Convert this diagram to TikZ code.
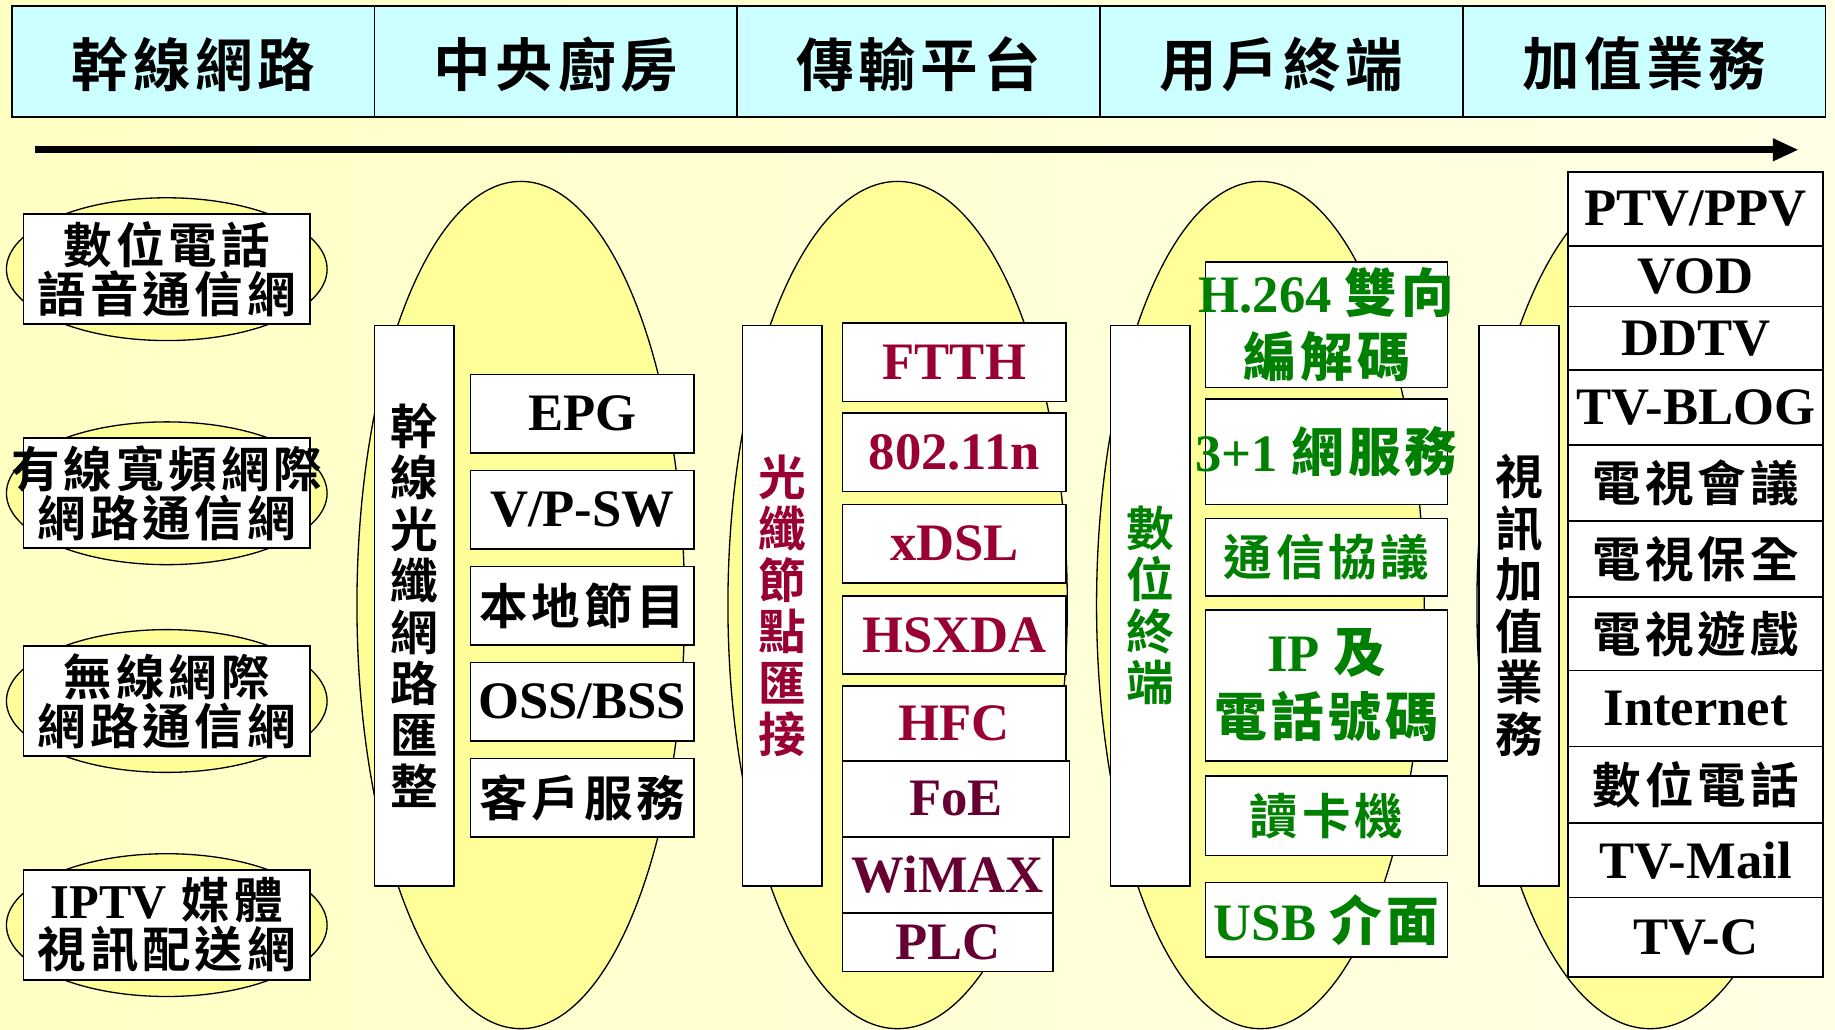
\documentclass[tikz,border=0pt]{standalone}
\usepackage{fontspec}
\setmainfont{Liberation Serif}
\newfontfamily\cjk{Noto Sans CJK TC}[UprightFont=* Bold, LetterSpace=8]
\usetikzlibrary{arrows.meta,
                positioning,
                shapes.geometric
            }
\definecolor{bgA}{HTML}{FFFFC4}
\definecolor{bgB}{HTML}{FFFFE6}
\definecolor{ovalyel}{HTML}{FFFF99}
\definecolor{hdrcyan}{HTML}{CCFFFF}
\definecolor{txtred}{HTML}{990033}
\definecolor{txtdark}{HTML}{660033}
\definecolor{txtgreen}{HTML}{008000}
\newcommand\overhang[1]{\makebox[0pt]{#1}}

\begin{document}
\begin{tikzpicture}[x=0.25mm, y=-0.25mm,
        sz/.style 2 args={minimum width=#1*0.25mm, minimum height=#2*0.25mm},
        hdr/.style={draw, fill=hdrcyan, line width=1pt, inner sep=0pt, sz={310}{95}, text depth=0pt,
                    font=\cjk\fontsize{35}{38}\selectfont},
        netbox/.style={draw, fill=white, line width=1pt, inner sep=0pt, align=center, sz={245}{94},
                    font=\cjk\fontsize{29.5}{30}\selectfont},
        vbox/.style={draw, fill=white, line width=1pt, inner sep=0pt, align=center, sz={68}{479},
                    font=\cjk\fontsize{29}{31.3}\selectfont},
        item/.style={draw, fill=white, line width=1pt, inner sep=0pt, align=center,
                    font=\bfseries\fontsize{32}{39}\selectfont},
        zh/.style={font=\cjk\fontsize{29.5}{32}\selectfont},
        oval/.style={draw, fill=ovalyel, line width=0.8pt}
    ]
    \useasboundingbox (0,0) rectangle (1568,880);
    \shade[shading angle=135, left color=bgA, right color=bgB] (0,0) rectangle (1568,880);

    % header
    \node[hdr] (hTrunk)   at (165,52.5)  {幹線網路};
    \node[hdr] (hKitchen) at (475,52.5)  {中央廚房};
    \node[hdr] (hTrans)   at (785,52.5)  {傳輸平台};
    \node[hdr] (hUser)    at (1095,52.5) {用戶終端};
    \node[hdr] (hValue)   at (1405,52.5) {加值業務};
    \coordinate (arrStart) at (30,128);
    \coordinate (arrEnd)   at (1537,128);
    \draw[line width=4.3pt, -{Triangle[length=5.5mm, width=4.5mm]}] (arrStart) -- (arrEnd);

    % ovals
    \draw[oval] (142.5,230)   ellipse [x radius=137, y radius=61];
    \draw[oval] (142.5,421.5) ellipse [x radius=137, y radius=61];
    \draw[oval] (142.5,599)   ellipse [x radius=137, y radius=61];
    \draw[oval] (142.5,790.5) ellipse [x radius=137, y radius=61];
    \draw[oval] (445,517)  ellipse [x radius=140, y radius=362];
    \draw[oval] (767,517)  ellipse [x radius=145, y radius=362];
    \draw[oval] (1077,517) ellipse [x radius=140, y radius=362];
    \draw[oval] (1410,517) ellipse [x radius=148, y radius=362];

    % trunk networks
    \node[netbox] (netVoice) at (142.5,230)   {數位電話\\語音通信網};
    \node[netbox] (netCable) at (142.5,421.5) {\overhang{有線寬頻網際}\\網路通信網};
    \node[netbox] (netWless) at (142.5,599)   {無線網際\\網路通信網};
    \node[netbox] (netIptv)  at (142.5,790.5) {{\normalfont\bfseries IPTV} 媒體\\視訊配送網};

    % vertical boxes
    \node[vbox] (vTrunk) at (354,517.5)  {幹\\線\\光\\纖\\網\\路\\匯\\整};
    \node[vbox, text=txtred] (vNode) at (668.5,517.5) {光\\纖\\節\\點\\匯\\接};
    \node[vbox, text=txtgreen] (vTerm) at (983,517.5) {數\\位\\終\\端};
    \node[vbox] (vValue) at (1298,517.5) {視\\訊\\加\\值\\業\\務};

    % central kitchen
    \node[item, sz={191}{67}] (epg)  at (497.5,353.5) {EPG};
    \node[item, sz={191}{67}] (vpsw) at (497.5,435.5) {V/P-SW};
    \node[item, zh, sz={191}{67}] (local) at (497.5,517.5) {本地節目};
    \node[item, sz={191}{67}] (oss)  at (497.5,599.5) {OSS/BSS};
    \node[item, zh, sz={191}{67}] (cust) at (497.5,681.5) {客戶服務};

    % transport
    \node[item, text=txtred, sz={191}{67}] (ftth)  at (815.5,309.5) {FTTH};
    \node[item, text=txtred, sz={191}{67}] (wifi)  at (815.5,386.5) {802.11n};
    \node[item, text=txtred, sz={191}{67}] (xdsl)  at (815.5,464.5) {xDSL};
    \node[item, text=txtred, sz={191}{67}] (hsxda) at (815.5,542.5) {HSXDA};
    \node[item, text=txtred, sz={191}{64}] (hfc)   at (815.5,618)   {HFC};
    \node[item, text=txtdark, sz={194}{65}] (foe)  at (817,682.5)   {FoE};
    \node[item, text=txtdark, sz={180}{65}] (wimax) at (810,747.5)  {\overhang{WiMAX}};
    \node[item, text=txtdark, sz={180}{50}] (plc)  at (810,805)     {PLC};

    % user terminal
    \node[item, text=txtgreen, sz={207}{107}] (codec) at (1133.5,277.5) {\overhang{H.264 {\cjk 雙向}}\\{\cjk 編解碼}};
    \node[item, text=txtgreen, sz={207}{90}]  (triple) at (1133.5,386) {\overhang{3+1 {\cjk 網服務}}};
    \node[item, zh, text=txtgreen, sz={207}{66}] (proto) at (1133.5,476) {通信協議};
    \node[item, text=txtgreen, sz={207}{129}] (ipnum) at (1133.5,585.5) {IP {\cjk 及}\\{\cjk 電話號碼}};
    \node[item, zh, text=txtgreen, sz={207}{68}] (reader) at (1133.5,697) {讀卡機};
    \node[item, text=txtgreen, sz={207}{64}] (usb) at (1133.5,786) {USB {\cjk 介面}};

    % value added
    \node[item, sz={218}{63}] (ptv)   at (1449,178.5) {PTV/PPV};
    \node[item, sz={218}{52}] (vod)   at (1449,236)   {VOD};
    \node[item, sz={218}{54}] (ddtv)  at (1449,289)   {DDTV};
    \node[item, sz={218}{64}] (blog)  at (1449,348)   {\overhang{TV-BLOG}};
    \node[item, zh, sz={218}{65}] (conf)  at (1449,412.5) {電視會議};
    \node[item, zh, sz={218}{65}] (sec)   at (1449,477.5) {電視保全};
    \node[item, zh, sz={218}{63}] (game)  at (1449,541.5) {電視遊戲};
    \node[item, sz={218}{65}] (inet)  at (1449,605.5) {Internet};
    \node[item, zh, sz={218}{65}] (phone) at (1449,670.5) {數位電話};
    \node[item, sz={218}{64}] (mail)  at (1449,735)   {TV-Mail};
    \node[item, sz={218}{68}] (tvc)   at (1449,801)   {TV-C};
\end{tikzpicture}
\end{document}
